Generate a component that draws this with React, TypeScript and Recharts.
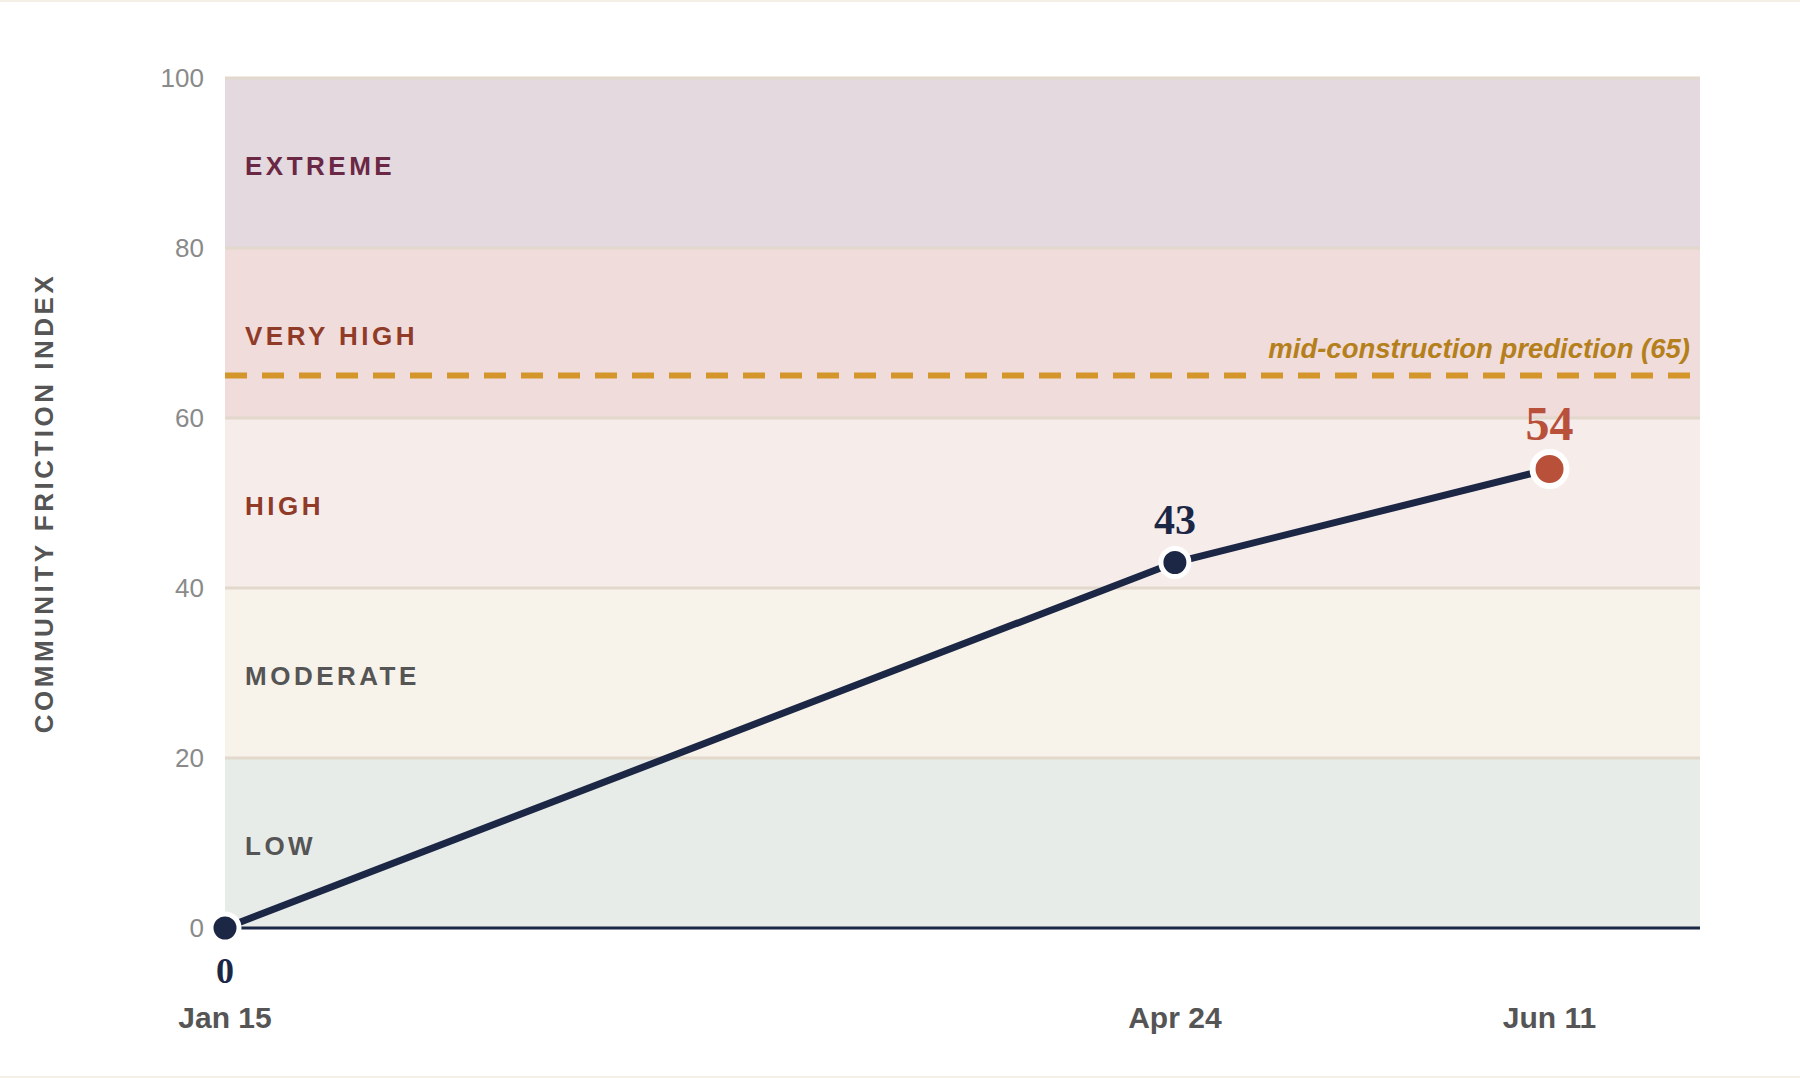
import React from 'react';
import {
  ComposedChart,
  Line,
  XAxis,
  YAxis,
  ReferenceArea,
  ReferenceLine,
  LabelList,
  Label,
} from 'recharts';

// timeline: checkpoints placed along the construction schedule (0-100)
const dateLabels = ['Jan 15', 'Apr 24', 'Jun 11'];
const timelinePos = [0, 64.4, 89.8];
const frictionValues = [0, 43, 54];

const yTicks = [0, 20, 40, 60, 80, 100];
const bandNames = ['LOW', 'MODERATE', 'HIGH', 'VERY HIGH', 'EXTREME'];
const bandEdges = [0, 20, 40, 60, 80, 100];
const bandFills = ['#e8ece8', '#f8f3ea', '#f6ecea', '#efdcdb', '#e3d9de'];
const bandText = ['#555555', '#555555', '#8f3b28', '#8f3b28', '#6a2844'];

const predictionValue = 65;
const predictionLabel = 'mid-construction prediction (65)';

const NAVY = '#1b2745';
const RUST = '#b8503a';
const SANS = '"Liberation Sans", Arial, sans-serif';
const SERIF = '"Liberation Serif", "Times New Roman", serif';

const chartData = timelinePos.map((pos, i) => ({
  pos,
  label: dateLabels[i],
  value: frictionValues[i],
}));

const BandLabel = ({ viewBox, text, color }: any) => {
  if (!viewBox) return null;
  return (
    <text
      x={viewBox.x + 20}
      y={viewBox.y + viewBox.height / 2 + 12}
      fill={color}
      fontFamily={SANS}
      fontSize={26}
      fontWeight={700}
      letterSpacing={3.5}
    >
      {text}
    </text>
  );
};

const PredictionLabel = ({ viewBox }: any) => {
  if (!viewBox) return null;
  return (
    <text
      x={viewBox.x + viewBox.width - 10}
      y={viewBox.y - 18}
      textAnchor="end"
      fill="#b5801c"
      fontFamily={SANS}
      fontSize={27.5}
      fontWeight={700}
      fontStyle="italic"
    >
      {predictionLabel}
    </text>
  );
};

const YTitle = ({ viewBox }: any) => {
  if (!viewBox) return null;
  const cx = viewBox.x + 53;
  const cy = viewBox.y + viewBox.height / 2;
  return (
    <text
      x={cx}
      y={cy}
      transform={`rotate(-90, ${cx}, ${cy})`}
      textAnchor="middle"
      fill="#555555"
      fontFamily={SANS}
      fontSize={26}
      fontWeight={700}
      letterSpacing={3.5}
    >
      COMMUNITY FRICTION INDEX
    </text>
  );
};

const YTick = ({ x, y, payload }: any) => (
  <text x={x} y={y + 9} textAnchor="end" fill="#8a8a8a" fontFamily={SANS} fontSize={26}>
    {payload.value}
  </text>
);

const XTick = ({ x, y, payload }: any) => {
  const idx = timelinePos.indexOf(payload.value);
  return (
    <text x={x} y={y + 100} textAnchor="middle" fill="#555555" fontFamily={SANS} fontSize={30} fontWeight={700}>
      {idx >= 0 ? dateLabels[idx] : ''}
    </text>
  );
};

const PointDot = ({ cx, cy, index }: any) => {
  const last = index === frictionValues.length - 1;
  return (
    <circle
      key={`dot-${index}`}
      cx={cx}
      cy={cy}
      r={last ? 17 : 14}
      fill={last ? RUST : NAVY}
      stroke="#ffffff"
      strokeWidth={last ? 6 : 5}
    />
  );
};

const ValueLabel = ({ x, y, value, index }: any) => {
  const last = index === frictionValues.length - 1;
  if (index === 0) {
    return (
      <text x={x} y={y + 55} textAnchor="middle" fill={NAVY} fontFamily={SERIF} fontSize={36} fontWeight={700}>
        {value}
      </text>
    );
  }
  return (
    <text
      x={x}
      y={y - 29}
      textAnchor="middle"
      fill={last ? RUST : NAVY}
      fontFamily={SERIF}
      fontSize={last ? 48 : 42}
      fontWeight={700}
    >
      {value}
    </text>
  );
};

export default function App() {
  return (
    <div style={{ position: 'fixed', top: 0, left: 0, width: 1800, height: 1078, background: '#f4f0e8' }}>
      <div style={{ position: 'absolute', top: 2, left: 0, width: 1800, height: 1074, background: '#ffffff' }} />
      <div style={{ position: 'absolute', top: 0, left: 0 }}>
        <ComposedChart
          width={1800}
          height={1078}
          data={chartData}
          margin={{ top: 78, right: 100, left: 0, bottom: 0 }}
        >
          <XAxis
            dataKey="pos"
            type="number"
            domain={[0, 100]}
            ticks={timelinePos}
            height={150}
            tickSize={0}
            tickMargin={0}
            tickLine={false}
            axisLine={false}
            tick={<XTick />}
          />
          <YAxis
            type="number"
            domain={[0, 100]}
            ticks={yTicks}
            width={225}
            tickSize={0}
            tickMargin={21}
            tickLine={false}
            axisLine={false}
            tick={<YTick />}
          >
            <Label content={<YTitle />} />
          </YAxis>

          {bandNames.map((name, i) => (
            <ReferenceArea
              key={name}
              y1={bandEdges[i]}
              y2={bandEdges[i + 1]}
              fill={bandFills[i]}
              fillOpacity={1}
              stroke="none"
              label={<BandLabel text={name} color={bandText[i]} />}
            />
          ))}
          {bandEdges.slice(1).map((edge) => (
            <ReferenceLine key={`edge-${edge}`} y={edge} stroke="#e2d8cb" strokeWidth={3} />
          ))}
          <ReferenceLine y={0} stroke={NAVY} strokeWidth={3} />
          <ReferenceLine
            y={predictionValue}
            stroke="#d4962b"
            strokeWidth={6}
            strokeDasharray="22 15"
            label={<PredictionLabel />}
          />

          <Line
            type="linear"
            dataKey="value"
            stroke={NAVY}
            strokeWidth={7}
            dot={<PointDot />}
            activeDot={false}
            isAnimationActive={false}
          >
            <LabelList dataKey="value" content={<ValueLabel />} />
          </Line>
        </ComposedChart>
      </div>
    </div>
  );
}
